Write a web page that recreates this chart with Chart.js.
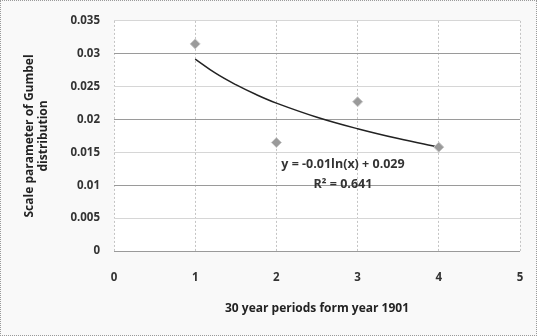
<!DOCTYPE html>
<html><head><meta charset="utf-8">
<script src="https://cdn.jsdelivr.net/npm/chart.js@4/dist/chart.umd.min.js"></script>
<style>
html,body{margin:0;padding:0;background:#f9f9f9;}
canvas{display:block;position:absolute;left:0;top:0;}
#frame{position:absolute;left:0;top:0;width:535px;height:334px;border:1px dotted #9a9a9a;pointer-events:none;}
</style></head>
<body><canvas id="c" width="537" height="336"></canvas><div id="frame"></div>
<script>
const periods = [1, 2, 3, 4];
const scaleParam = [0.0315, 0.0165, 0.0227, 0.0158];
const trendX = [1, 1.25, 1.5, 1.75, 2, 2.5, 3, 3.5, 4];
const trendY = [0.0292, 0.02705, 0.0253, 0.0238, 0.0225, 0.02035, 0.0186, 0.0171, 0.0158];
const yTickLabels = ["0", "0.005", "0.01", "0.015", "0.02", "0.025", "0.03", "0.035"];
const xTickLabels = ["0", "1", "2", "3", "4", "5"];
const equationText = ["y = -0.01ln(x) + 0.029", "R² = 0.641"];
const equationPos = [[2.82, 0.0131], [2.82, 0.0102]];

const FONT = "'Open Sans', 'Liberation Sans', sans-serif";

const textPlugin = {
  id: 'eqText',
  afterDatasetsDraw(chart) {
    const {ctx, scales} = chart;
    ctx.save();
    ctx.fillStyle = '#333';
    ctx.font = "bold 12.5px " + FONT;
    ctx.textAlign = 'center';
    ctx.textBaseline = 'middle';
    equationText.forEach((t, i) => {
      ctx.fillText(t, scales.x.getPixelForValue(equationPos[i][0]), scales.y.getPixelForValue(equationPos[i][1]));
    });
    ctx.restore();
  }
};
const bgPlugin = {
  id: 'bg',
  beforeDraw(chart) {
    const {ctx, chartArea: a} = chart;
    ctx.save();
    ctx.fillStyle = '#ffffff';
    ctx.fillRect(a.left, a.top, a.right - a.left, a.bottom - a.top);
    ctx.restore();
  }
};

new Chart(document.getElementById('c'), {
  type: 'scatter',
  data: {
    datasets: [
      {
        label: 'Scale parameter',
        data: periods.map((x, i) => ({x: x, y: scaleParam[i]})),
        pointStyle: 'rectRot',
        pointRadius: 5,
        backgroundColor: '#9a9a9a',
        borderColor: '#c8c8c8',
        borderWidth: 1,
        order: 0
      },
      {
        label: 'Trend',
        type: 'line',
        data: trendX.map((x, i) => ({x: x, y: trendY[i]})),
        borderColor: '#222',
        borderWidth: 1.5,
        pointRadius: 0,
        tension: 0.4,
        fill: false,
        order: 1
      }
    ]
  },
  options: {
    responsive: false,
    animation: false,
    layout: {padding: {top: 18, right: 17, left: 0, bottom: 0}},
    plugins: {legend: {display: false}, tooltip: {enabled: false}},
    scales: {
      x: {
        type: 'linear', min: 0, max: 5,
        ticks: {stepSize: 1, padding: 20, color: '#333', font: {family: FONT, size: 11.5, weight: 'bold'},
          callback: (v) => xTickLabels[Math.round(v)] ?? ''},
        grid: {color: '#c4c4c4', drawTicks: false, lineWidth: 1},
        border: {display: false, dash: [2, 2]},
        title: {display: true, text: '30 year periods form year 1901', color: '#222',
          font: {family: FONT, size: 12, weight: 'bold'}, padding: {top: 4, bottom: 20}},
        afterFit(s) { s.height = 85; s.paddingLeft = 0; s.paddingRight = 0; }
      },
      y: {
        min: 0, max: 0.035,
        ticks: {stepSize: 0.005, padding: 14, color: '#333', font: {family: FONT, size: 11.5, weight: 'bold'},
          callback: (v) => yTickLabels[Math.round(v / 0.005)] ?? ''},
        grid: {
          drawTicks: false,
          color: (c) => (Math.round(c.tick.value / 0.005) % 2 === 0 ? '#9a9a9a' : '#d6d6d6'),
          lineWidth: 1
        },
        border: {display: false},
        title: {display: true, text: ['Scale parameter of Gumbel', 'distribution'], color: '#222',
          font: {family: FONT, size: 12, weight: 'bold'}, padding: {top: 22, bottom: 0}, lineHeight: 1.1},
        afterFit(s) { s.width = 114; }
      }
    }
  },
  plugins: [bgPlugin, textPlugin]
});
</script>
</body></html>
